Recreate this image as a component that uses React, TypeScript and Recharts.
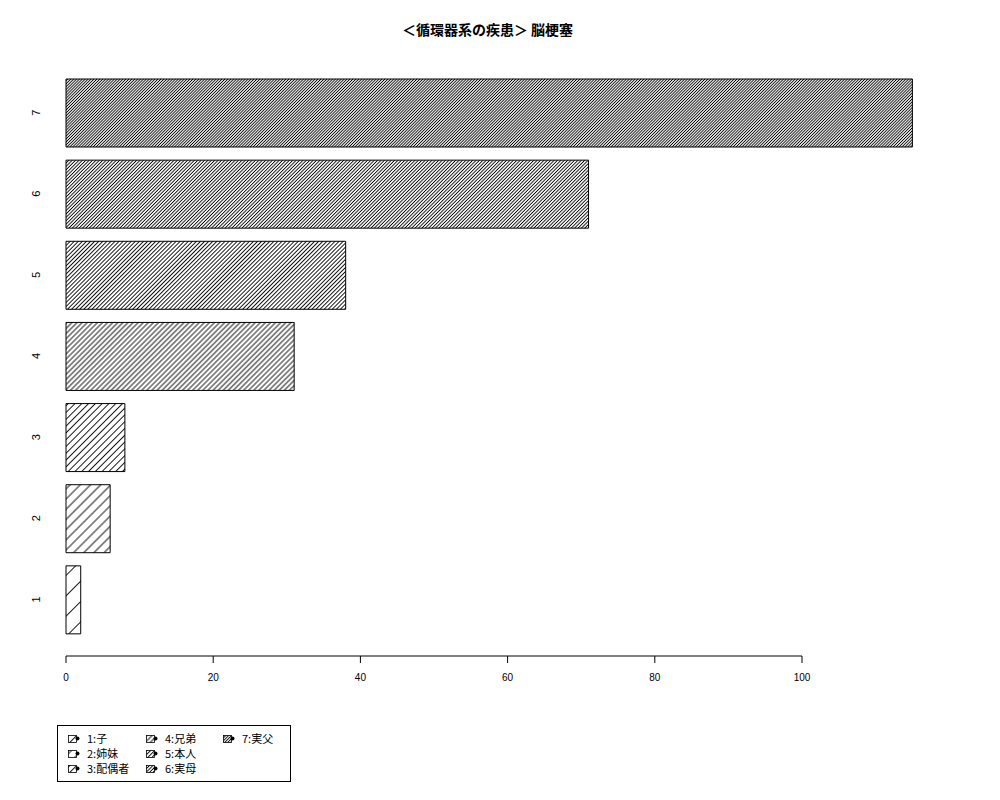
import { BarChart, Bar, XAxis, YAxis, Cell } from "recharts";

// 家族区分ごとの件数（下から 1 → 7）
const categories = ["1", "2", "3", "4", "5", "6", "7"];
const counts = [2, 6, 8, 31, 38, 71, 115];
const legendLabels = ["1:子", "2:姉妹", "3:配偶者", "4:兄弟", "5:本人", "6:実母", "7:実父"];
// R の density（1インチあたりの斜線本数）
const densities = [5, 10, 15, 20, 25, 30, 35];
const xTicks = [0, 20, 40, 60, 80, 100];
const xDomain: [number, number] = [0, 120];

const title = "＜循環器系の疾患＞ 脳梗塞";

// 上から 7 → 1 の順に並べる
const data = categories
  .map((name, i) => ({ name, value: counts[i], idx: i }))
  .reverse();

const FONT = "'Liberation Sans', Arial, sans-serif";
const JP_FONT = "'Noto Sans CJK JP', 'Liberation Sans', sans-serif";
const TICK_SIZE = 7;
const TICK_MARGIN = 11;

function hatchSpacing(d: number) {
  return 72 / d;
}

function HatchDefs() {
  return (
    <defs>
      {densities.map((d, i) => {
        const s = hatchSpacing(d);
        return (
          <pattern
            key={i}
            id={`hatch${i}`}
            patternUnits="userSpaceOnUse"
            width={s}
            height={s}
            patternTransform="rotate(45)"
          >
            <rect width={s} height={s} fill="#fff" />
            <line x1={s / 2} y1={0} x2={s / 2} y2={s} stroke="#000" strokeWidth={0.9} />
          </pattern>
        );
      })}
    </defs>
  );
}

// x 軸の目盛り。最初の目盛りで 0〜100 の範囲だけ軸線を引く（R の axis() と同じ）
function XTick(props: any) {
  const { x, y, payload, index, width } = props;
  const axisY = y - TICK_SIZE - TICK_MARGIN;
  const span = ((xTicks[xTicks.length - 1] - xTicks[0]) / (xDomain[1] - xDomain[0])) * Number(width);
  return (
    <g>
      {index === 0 && Number.isFinite(span) && (
        <line x1={x} y1={axisY} x2={x + span} y2={axisY} stroke="#000" strokeWidth={1} />
      )}
      <text x={x} y={y} dy="0.71em" textAnchor="middle" fontSize={10} fontFamily={FONT} fill="#000">
        {payload.value}
      </text>
    </g>
  );
}

function YTick(props: any) {
  const { y, payload } = props;
  const x = 36;
  return (
    <text
      x={x}
      y={y}
      transform={`rotate(-90, ${x}, ${y})`}
      textAnchor="middle"
      dominantBaseline="central"
      fontSize={11}
      fontFamily={FONT}
      fill="#000"
    >
      {payload.value}
    </text>
  );
}

function LegendBox() {
  const colX = [67, 145, 222];
  return (
    <div
      style={{
        position: "absolute",
        left: 57,
        top: 725,
        width: 234,
        height: 57,
        border: "1px solid #000",
        boxSizing: "border-box",
        fontFamily: JP_FONT,
        fontSize: 11,
      }}
    >
      {legendLabels.map((label, i) => {
        const col = Math.floor(i / 3);
        const row = i % 3;
        return (
          <div
            key={label}
            style={{
              position: "absolute",
              left: colX[col] - 57,
              top: 5 + row * 15,
              display: "flex",
              alignItems: "center",
              height: 14,
              whiteSpace: "nowrap",
            }}
          >
            <svg width={12} height={9} style={{ marginRight: 7 }}>
              <rect x={0.5} y={1.5} width={8} height={7} fill={`url(#hatch${i})`} stroke="#000" strokeWidth={0.8} />
              <circle cx={9.5} cy={4.5} r={2} fill="#000" />
            </svg>
            <span>{label}</span>
          </div>
        );
      })}
    </div>
  );
}

export default function App() {
  return (
    <div style={{ position: "absolute", left: 0, top: 0, width: 1000, height: 800, background: "#fff" }}>
      <div
        style={{
          position: "absolute",
          left: 0,
          top: 19,
          width: 975,
          textAlign: "center",
          fontFamily: JP_FONT,
          fontWeight: 700,
          fontSize: 14,
        }}
      >
        {title}
      </div>
      <BarChart
        width={1000}
        height={800}
        data={data}
        layout="vertical"
        margin={{ top: 72, right: 50.8, bottom: 114, left: 36 }}
      >
        <HatchDefs />
        <XAxis
          type="number"
          dataKey="value"
          domain={xDomain}
          ticks={xTicks}
          axisLine={false}
          tickLine={{ stroke: "#000", strokeWidth: 1 }}
          tickSize={TICK_SIZE}
          tickMargin={TICK_MARGIN}
          height={30}
          tick={<XTick />}
        />
        <YAxis
          type="category"
          dataKey="name"
          width={30}
          axisLine={false}
          tickLine={false}
          padding={{ top: 0, bottom: 16 }}
          tick={<YTick />}
        />
        <Bar dataKey="value" barSize={68} isAnimationActive={false} stroke="#000" strokeWidth={1}>
          {data.map((d) => (
            <Cell key={d.name} fill={`url(#hatch${d.idx})`} />
          ))}
        </Bar>
      </BarChart>
      <LegendBox />
    </div>
  );
}
